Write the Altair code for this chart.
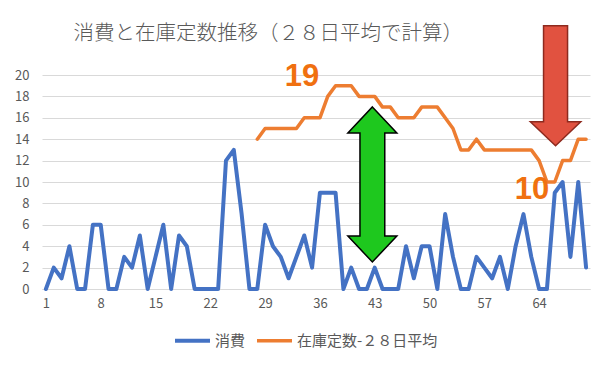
import altair as alt
import pandas as pd

# ---- data ----
days = list(range(1, 71))
consumption = [0, 2, 1, 4, 0, 0, 6, 6, 0, 0,
               3, 2, 5, 0, 3, 6, 0, 5, 4, 0,
               0, 0, 0, 12, 13, 7, 0, 0, 6, 4,
               3, 1, 3, 5, 2, 9, 9, 9, 0, 2,
               0, 0, 2, 0, 0, 0, 4, 1, 4, 4,
               0, 7, 3, 0, 0, 3, 2, 1, 3, 0,
               4, 7, 3, 0, 0, 9, 10, 3, 10, 2]
stock_start_day = 28
stock_avg = [14, 15, 15, 15, 15, 15, 16, 16, 16, 18,
             19, 19, 19, 18, 18, 18, 17, 17, 16, 16,
             16, 17, 17, 17, 16, 15, 13, 13, 14, 13,
             13, 13, 13, 13, 13, 13, 12, 10, 10, 12,
             12, 14, 14]
series_names = ["消費", "在庫定数-２８日平均"]
series_colors = ["#4472C4", "#ED7D31"]
series_widths = [4, 3.5]
x_ticks = [1, 8, 15, 22, 29, 36, 43, 50, 57, 64]
y_ticks = [0, 2, 4, 6, 8, 10, 12, 14, 16, 18, 20]
title_text = "消費と在庫定数推移（２８日平均で計算）"
peak_label = "19"
low_label = "10"

# annotation anchor points (data coordinates)
peak_pos = (33.7, 19.8)
low_pos = (63.1, 9.25)
green_pos = (42.7, 9.77)
red_pos = (66.1, 19.0)

rows = [{"day": d, "value": v, "series": series_names[0]} for d, v in zip(days, consumption)]
rows += [{"day": stock_start_day + i, "value": v, "series": series_names[1]}
         for i, v in enumerate(stock_avg)]
df = pd.DataFrame(rows)

FONT = "Noto Sans CJK JP"
GRAY = "#595959"

x_scale = alt.Scale(domain=[0.5, 70.5], nice=False, zero=False)
y_scale = alt.Scale(domain=[0, 20], nice=False)

x_enc = alt.X("day:Q", scale=x_scale,
              axis=alt.Axis(values=x_ticks, title=None, grid=False, ticks=False,
                            domainColor="#d9d9d9", domainWidth=1,
                            labelColor=GRAY, labelFontSize=13, labelFont=FONT,
                            labelPadding=8, format="d", labelOverlap=False))
y_enc = alt.Y("value:Q", scale=y_scale,
              axis=alt.Axis(values=y_ticks, title=None, domain=False, ticks=False,
                            gridColor="#d9d9d9", gridWidth=1,
                            labelColor=GRAY, labelFontSize=13, labelFont=FONT,
                            labelPadding=13, labelOverlap=False))

lines = alt.Chart(df).mark_line(strokeJoin="round", strokeCap="round").encode(
    x=x_enc,
    y=y_enc,
    color=alt.Color("series:N",
                    scale=alt.Scale(domain=series_names, range=series_colors),
                    legend=alt.Legend(orient="none", legendX=131, legendY=246,
                                      direction="horizontal", title=None,
                                      symbolType="stroke", symbolSize=1225,
                                      symbolStrokeWidth=4, labelFontSize=15,
                                      labelColor=GRAY, labelFont=FONT,
                                      columnPadding=4, labelOffset=3)),
    strokeWidth=alt.StrokeWidth("series:N",
                                scale=alt.Scale(domain=series_names, range=series_widths),
                                legend=None),
    order="day:Q",
)

green_path = ("M0,-1 L0.316,-0.665 L0.16,-0.665 L0.16,0.665 L0.316,0.665 L0,1 "
              "L-0.316,0.665 L-0.16,0.665 L-0.16,-0.665 L-0.316,-0.665 Z")
red_path = "M-0.2,-1 L0.2,-1 L0.2,0.6 L0.42,0.6 L0,1 L-0.42,0.6 L-0.2,0.6 Z"


def point_df(pos, label=None):
    d = {"day": [pos[0]], "value": [pos[1]]}
    if label is not None:
        d["t"] = [label]
    return pd.DataFrame(d)


green_arrow = alt.Chart(point_df(green_pos)).mark_point(
    shape=green_path, size=24025, filled=True, fill="#1EC81E", stroke="#000000",
    strokeWidth=1.5, opacity=1
).encode(x=x_enc, y=y_enc)

red_arrow = alt.Chart(point_df(red_pos)).mark_point(
    shape=red_path, size=14400, filled=True, fill="#E15240", stroke="#8E2A1E",
    strokeWidth=1.5, opacity=1
).encode(x=x_enc, y=y_enc)

peak_text = alt.Chart(point_df(peak_pos, peak_label)).mark_text(
    font="Liberation Sans", fontWeight="bold", fontSize=31, color="#F07010",
    align="center", baseline="middle"
).encode(x=x_enc, y=y_enc, text="t:N")

low_text = alt.Chart(point_df(low_pos, low_label)).mark_text(
    font="Liberation Sans", fontWeight="bold", fontSize=31, color="#F07010",
    align="center", baseline="middle"
).encode(x=x_enc, y=y_enc, text="t:N")

chart = alt.layer(lines, peak_text, low_text, green_arrow, red_arrow).properties(
    width=548, height=214,
    autosize=alt.AutoSizeParams(type="none"),
    padding={"left": 34, "top": 67, "right": 15, "bottom": 70},
    title=alt.TitleParams(text=title_text, anchor="start", dx=59, offset=0, dy=22,
                          font=FONT, fontSize=20.5, fontWeight=300, color=GRAY),
).configure_view(stroke=None)

chart.save("out.html", embed_options={"renderer": "svg", "actions": False})
